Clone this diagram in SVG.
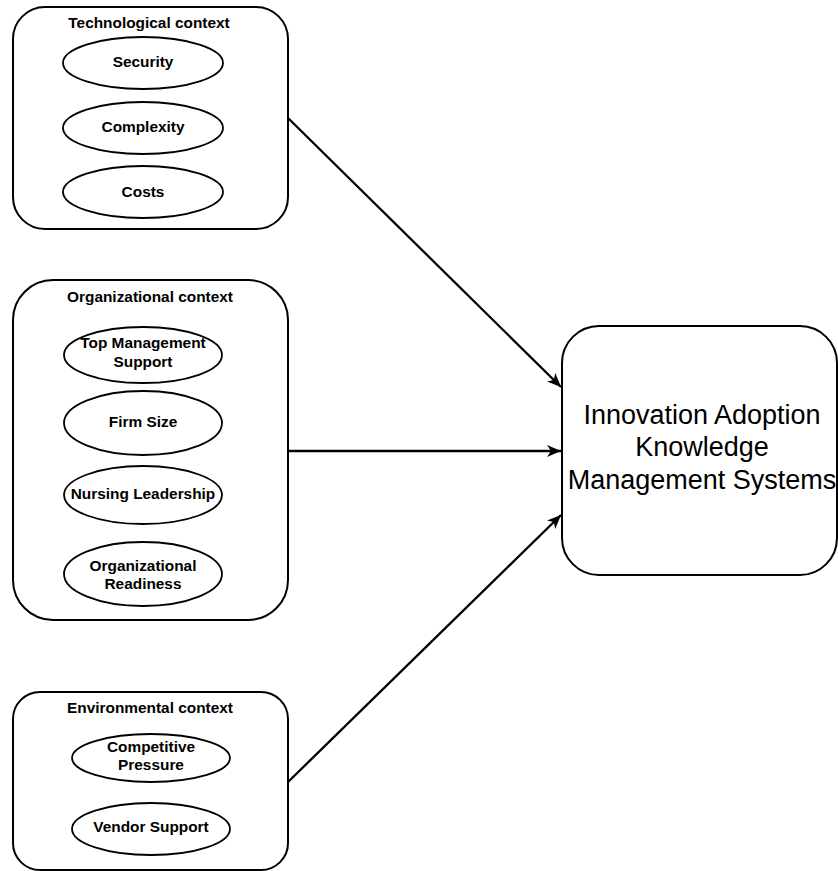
<svg xmlns="http://www.w3.org/2000/svg" width="838" height="871" viewBox="0 0 838 871">
  <style>
    .box { fill: #ffffff; stroke: #000000; stroke-width: 2; }
    .oval { fill: #ffffff; stroke: #000000; stroke-width: 1.8; }
    .lbl { font-family: "Liberation Sans", Arial, sans-serif; font-weight: bold; font-size: 15.4px; fill: #000000; text-anchor: middle; }
    .big { font-family: "Liberation Sans", Arial, sans-serif; font-size: 27px; fill: #000000; text-anchor: middle; }
    .edge { fill: none; stroke: #000000; stroke-width: 2.3; marker-end: url(#arrow); }
  </style>
  <defs>
    <marker id="arrow" markerUnits="userSpaceOnUse" markerWidth="15" markerHeight="13" viewBox="0 0 15 13" refX="14" refY="6.5" orient="auto">
      <path d="M0,0.5 L14,6.5 L0,12.5 L4,6.5 Z" fill="#000000"/>
    </marker>
  </defs>
  <rect width="838" height="871" fill="#ffffff"/>

  <!-- Technological context -->
  <g id="tech">
    <rect class="box" x="13" y="7" width="275" height="222" rx="32" ry="32"/>
    <text class="lbl" x="149" y="28">Technological context</text>
    <g id="security">
      <ellipse class="oval" cx="143" cy="63" rx="80" ry="26"/>
      <text class="lbl" x="143" y="67">Security</text>
    </g>
    <g id="complexity">
      <ellipse class="oval" cx="143" cy="128" rx="80" ry="26"/>
      <text class="lbl" x="143" y="132">Complexity</text>
    </g>
    <g id="costs">
      <ellipse class="oval" cx="143" cy="192" rx="80" ry="26"/>
      <text class="lbl" x="143" y="197">Costs</text>
    </g>
  </g>

  <!-- Organizational context -->
  <g id="org">
    <rect class="box" x="13" y="280" width="275" height="340" rx="40" ry="40"/>
    <text class="lbl" x="150" y="302">Organizational context</text>
    <g id="top-management">
      <ellipse class="oval" cx="143" cy="355" rx="79" ry="28"/>
      <text class="lbl" x="143" y="348">Top Management</text>
      <text class="lbl" x="143" y="367">Support</text>
    </g>
    <g id="firm-size">
      <ellipse class="oval" cx="143" cy="423" rx="79" ry="32"/>
      <text class="lbl" x="143" y="427">Firm Size</text>
    </g>
    <g id="nursing-leadership">
      <ellipse class="oval" cx="143" cy="495" rx="79" ry="29"/>
      <text class="lbl" x="143" y="499">Nursing Leadership</text>
    </g>
    <g id="org-readiness">
      <ellipse class="oval" cx="143" cy="574" rx="79" ry="32"/>
      <text class="lbl" x="143" y="571">Organizational</text>
      <text class="lbl" x="143" y="589">Readiness</text>
    </g>
  </g>

  <!-- Environmental context -->
  <g id="env">
    <rect class="box" x="13" y="692" width="275" height="178" rx="27" ry="27"/>
    <text class="lbl" x="150" y="713">Environmental context</text>
    <g id="competitive-pressure">
      <ellipse class="oval" cx="151" cy="758" rx="79" ry="24"/>
      <text class="lbl" x="151" y="752">Competitive</text>
      <text class="lbl" x="151" y="770">Pressure</text>
    </g>
    <g id="vendor-support">
      <ellipse class="oval" cx="151" cy="829" rx="79" ry="26"/>
      <text class="lbl" x="151" y="832">Vendor Support</text>
    </g>
  </g>

  <!-- Outcome -->
  <g id="adoption">
    <rect class="box" x="562" y="326" width="275" height="249" rx="37" ry="37"/>
    <text class="big" x="702" y="424">Innovation Adoption</text>
    <text class="big" x="702" y="456">Knowledge</text>
    <text class="big" x="702" y="489">Management Systems</text>
  </g>

  <!-- Connectors -->
  <g id="connectors">
    <path class="edge" d="M288,118 L561,387"/>
    <path class="edge" d="M288,451 L561,451"/>
    <path class="edge" d="M288,782 L561,515"/>
  </g>
</svg>
